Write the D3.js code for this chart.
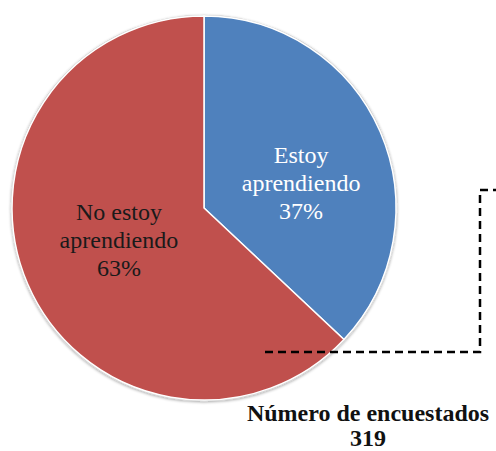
<!DOCTYPE html>
<html>
<head>
<meta charset="utf-8">
<script src="https://cdn.jsdelivr.net/npm/d3@7"></script>
<style>
  body { margin: 0; background: #fff; }
  svg { display: block; }
</style>
</head>
<body>
<div id="chart"></div>
<script>
// data
const categories = ['Estoy aprendiendo', 'No estoy aprendiendo'];
const values = [37, 63];
const labelLines = [['Estoy', 'aprendiendo', '37%'], ['No estoy', 'aprendiendo', '63%']];
const colors = ['#4F81BD', '#C0504D'];
const labelColors = ['#ffffff', '#1a1a1a'];
const noteLines = ['Número de encuestados', '319'];

const width = 496;
const height = 451;
const cx = 204;
const cy = 208;
const radius = 192;
const serif = "'Liberation Serif'";

const svg = d3.select('#chart').append('svg')
    .attr('width', width)
    .attr('height', height);

const defs = svg.append('defs');
const shadow = defs.append('filter')
    .attr('id', 'soft')
    .attr('x', '-10%').attr('y', '-10%')
    .attr('width', '120%').attr('height', '120%');
shadow.append('feGaussianBlur')
    .attr('in', 'SourceAlpha')
    .attr('stdDeviation', 1.5);
shadow.append('feOffset').attr('dx', 0).attr('dy', 1).attr('result', 'b');
shadow.append('feComponentTransfer').append('feFuncA').attr('type', 'linear').attr('slope', 0.35);
const merge = shadow.append('feMerge');
merge.append('feMergeNode');
merge.append('feMergeNode').attr('in', 'SourceGraphic');

const pie = d3.pie().sort(null).value(d => d);
const arcs = pie(values);
const arc = d3.arc().innerRadius(0).outerRadius(radius);
const labelArc = d3.arc().innerRadius(0).outerRadius(radius);

const g = svg.append('g')
    .attr('transform', `translate(${cx},${cy})`);

g.append('circle')
    .attr('r', radius + 0.5)
    .attr('fill', '#fff')
    .attr('stroke', '#d0d0d0')
    .attr('stroke-width', 1.5)
    .attr('filter', 'url(#soft)');

g.selectAll('path.slice')
    .data(arcs)
    .enter()
    .append('path')
    .attr('class', 'slice')
    .attr('d', arc)
    .attr('fill', (d, i) => colors[i])
    .attr('stroke', '#fff')
    .attr('stroke-width', 1.5);

const labelOffsets = [[9, 13], [3, -6]];
const labels = g.selectAll('text.lbl')
    .data(arcs)
    .enter()
    .append('text')
    .attr('class', 'lbl')
    .attr('text-anchor', 'middle')
    .style('font-family', serif)
    .style('font-size', '24px')
    .attr('fill', (d, i) => labelColors[i])
    .attr('transform', (d, i) => {
        const c = labelArc.centroid(d);
        return `translate(${c[0] + labelOffsets[i][0]},${c[1] + labelOffsets[i][1]})`;
    });

labels.selectAll('tspan')
    .data((d, i) => labelLines[i])
    .enter()
    .append('tspan')
    .attr('x', 0)
    .attr('y', (d, j) => (j - 1) * 28 + 8)
    .text(d => d);

// dashed callout box, drawn over the pie
svg.append('path')
    .attr('d', d3.line()([[265, 352], [480, 352], [480, 190], [500, 190]]))
    .attr('fill', 'none')
    .attr('stroke', '#000')
    .attr('stroke-width', 2.5)
    .attr('stroke-dasharray', '8,5');

const note = svg.append('text')
    .attr('text-anchor', 'middle')
    .style('font-family', serif)
    .style('font-size', '24px')
    .style('font-weight', 'bold')
    .attr('fill', '#111');

note.selectAll('tspan')
    .data(noteLines)
    .enter()
    .append('tspan')
    .attr('x', 368)
    .attr('y', (d, i) => 421 + i * 25)
    .text(d => d);
</script>
</body>
</html>
